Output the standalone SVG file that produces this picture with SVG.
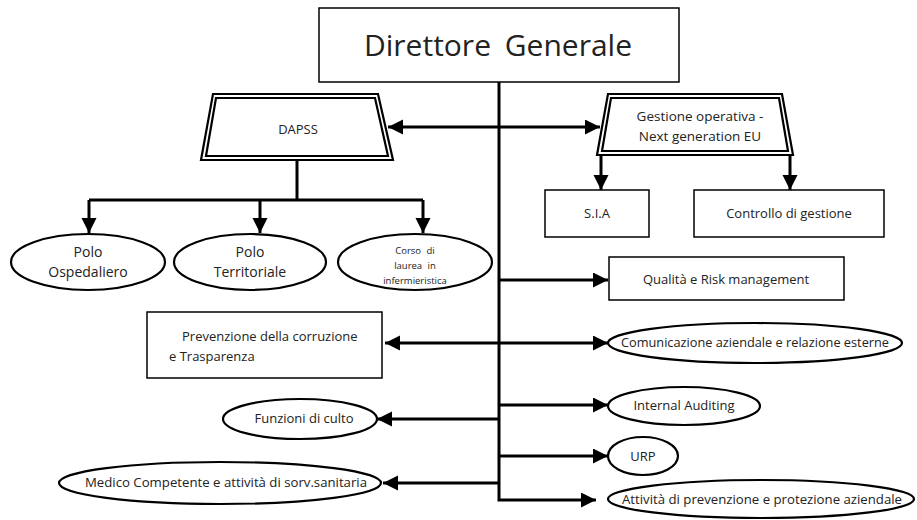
<svg xmlns="http://www.w3.org/2000/svg" width="917" height="520" viewBox="0 0 917 520">
<defs>
<marker id="ah" markerUnits="userSpaceOnUse" markerWidth="16" markerHeight="16" refX="15" refY="7.5" orient="auto-start-reverse">
<path d="M0,0 L15,7.5 L0,15 z" fill="#000"/>
</marker>
</defs>
<style>
.box{fill:#fff;stroke:#000;stroke-width:1.5}
.ell{fill:#fff;stroke:#000;stroke-width:2.2}
.trap{fill:#fff;stroke:#000;stroke-width:2.2}
.t{font-family:"Open Sans","Liberation Sans",sans-serif;fill:#222;text-anchor:middle}
.c{fill:none;stroke:#000;stroke-width:3}
</style>
<rect width="917" height="520" fill="#fff"/>
<g id="connectors">
<path class="c" d="M499,82 V500 H596" marker-end="url(#ah)"/>
<path class="c" d="M388,127 H600" marker-start="url(#ah)" marker-end="url(#ah)"/>
<path class="c" d="M601,155 V190" marker-end="url(#ah)"/>
<path class="c" d="M790,155 V190" marker-end="url(#ah)"/>
<path class="c" d="M297,160 V200"/>
<path class="c" d="M89,200 H423"/>
<path class="c" d="M89,200 V233" marker-end="url(#ah)"/>
<path class="c" d="M260,200 V233" marker-end="url(#ah)"/>
<path class="c" d="M423,200 V233" marker-end="url(#ah)"/>
<path class="c" d="M499,280 H608" marker-end="url(#ah)"/>
<path class="c" d="M385,343 H608" marker-start="url(#ah)" marker-end="url(#ah)"/>
<path class="c" d="M499,419 H377" marker-end="url(#ah)"/>
<path class="c" d="M499,405 H608" marker-end="url(#ah)"/>
<path class="c" d="M499,456 H608" marker-end="url(#ah)"/>
<path class="c" d="M499,483 H383" marker-end="url(#ah)"/>
</g>
<g id="direttore">
<rect class="box" x="319" y="8" width="360" height="74"/>
<text class="t" x="498" y="56" font-size="30" word-spacing="6">Direttore Generale</text>
</g>
<g id="dapss">
<path class="trap" d="M213,94 H378 L393,160 H201 Z"/>
<path class="trap" d="M216,98 H375 L388,156 H206 Z"/>
<text class="t" x="298" y="134" font-size="13">DAPSS</text>
</g>
<g id="gestione">
<path class="trap" d="M608,94 H782 L793,155 H597 Z"/>
<path class="trap" d="M611,98 H779 L788,151 H602 Z"/>
<text class="t" x="700" y="121" font-size="13.5">Gestione operativa -</text>
<text class="t" x="700" y="141" font-size="13.5">Next generation EU</text>
</g>
<g id="sia">
<rect class="box" x="545" y="190" width="104" height="47"/>
<text class="t" x="597" y="218" font-size="13">S.I.A</text>
</g>
<g id="controllo">
<rect class="box" x="694" y="190" width="190" height="47"/>
<text class="t" x="789" y="218" font-size="13">Controllo di gestione</text>
</g>
<g id="polo-ospedaliero">
<ellipse class="ell" cx="88" cy="262" rx="77" ry="28"/>
<text class="t" x="88" y="257" font-size="14">Polo</text>
<text class="t" x="88" y="277" font-size="14">Ospedaliero</text>
</g>
<g id="polo-territoriale">
<ellipse class="ell" cx="250" cy="262" rx="76" ry="28"/>
<text class="t" x="250" y="257" font-size="14">Polo</text>
<text class="t" x="250" y="277" font-size="14">Territoriale</text>
</g>
<g id="corso">
<ellipse class="ell" cx="415" cy="262" rx="77" ry="28"/>
<text class="t" x="415" y="254" font-size="9.5" word-spacing="3">Corso di</text>
<text class="t" x="415" y="269" font-size="9.5" word-spacing="3">laurea in</text>
<text class="t" x="415" y="284" font-size="9.5">infermieristica</text>
</g>
<g id="qualita">
<rect class="box" x="609" y="257" width="235" height="43"/>
<text class="t" x="726" y="284" font-size="13">Qualità e Risk management</text>
</g>
<g id="prevenzione">
<rect class="box" x="147" y="312" width="235" height="66"/>
<text x="182" y="341" font-size="13" font-family="Open Sans, Liberation Sans, sans-serif" fill="#222">Prevenzione della corruzione</text>
<text x="169" y="361" font-size="13" font-family="Open Sans, Liberation Sans, sans-serif" fill="#222">e Trasparenza</text>
</g>
<g id="comunicazione">
<ellipse class="ell" cx="755" cy="343" rx="147" ry="20"/>
<text class="t" x="755" y="347" font-size="12.5" textLength="268" lengthAdjust="spacingAndGlyphs">Comunicazione aziendale e relazione esterne</text>
</g>
<g id="internal-auditing">
<ellipse class="ell" cx="684" cy="406" rx="76" ry="19"/>
<text class="t" x="684" y="410" font-size="13">Internal Auditing</text>
</g>
<g id="funzioni">
<ellipse class="ell" cx="300" cy="419" rx="77" ry="20"/>
<text class="t" x="304" y="423" font-size="13">Funzioni di culto</text>
</g>
<g id="urp">
<ellipse class="ell" cx="643" cy="456" rx="35" ry="19"/>
<text class="t" x="643" y="461" font-size="13">URP</text>
</g>
<g id="medico">
<ellipse class="ell" cx="220" cy="483" rx="161" ry="21"/>
<text class="t" x="226" y="487" font-size="13" textLength="282" lengthAdjust="spacingAndGlyphs">Medico Competente e attività di sorv.sanitaria</text>
</g>
<g id="attivita">
<ellipse class="ell" cx="761" cy="499" rx="153" ry="19"/>
<text class="t" x="762" y="504" font-size="13" textLength="280" lengthAdjust="spacingAndGlyphs">Attività di prevenzione e protezione aziendale</text>
</g>
</svg>
